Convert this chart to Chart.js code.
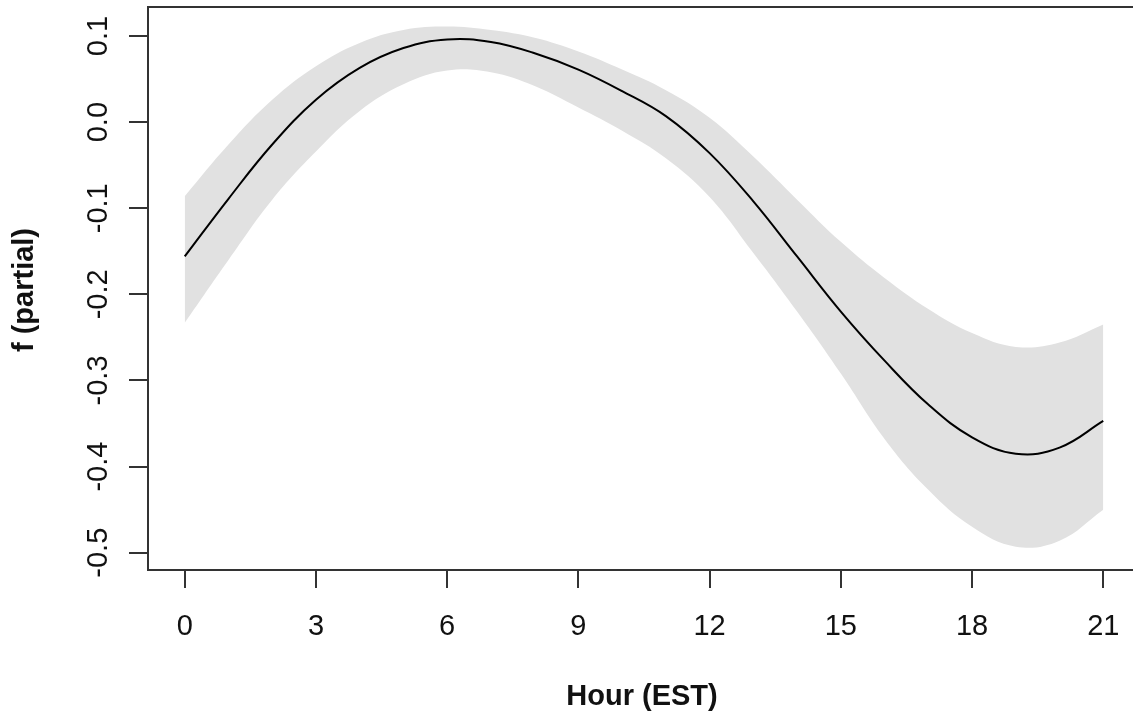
<!DOCTYPE html>
<html lang="en">
<head>
    <meta charset="UTF-8">
    <title>f (partial) by Hour</title>
    <script src="https://cdn.jsdelivr.net/npm/chart.js"></script>
    <style>
        html, body { margin: 0; padding: 0; background: #fff; overflow: hidden; }
        .chart-box { position: relative; width: 1133px; height: 717px; }
    </style>
</head>
<body>
    <div class="chart-box">
        <canvas id="smoothChart"></canvas>
    </div>

    <script>
// values
const hours = [0, 1, 2, 3, 4, 5, 6, 7, 8, 9, 10, 11, 12, 13, 14, 15, 16, 17, 18, 19, 20, 21];
const fitValues = [-0.156, -0.089, -0.026, 0.026, 0.063, 0.086, 0.096, 0.093, 0.080, 0.061, 0.036, 0.007,
    -0.036, -0.092, -0.156, -0.220, -0.277, -0.328, -0.366, -0.385, -0.378, -0.347];
const upperValues = [-0.086, -0.026, 0.026, 0.065, 0.092, 0.107, 0.111, 0.107, 0.098, 0.082, 0.061, 0.037,
    0.005, -0.040, -0.090, -0.139, -0.181, -0.217, -0.245, -0.261, -0.256, -0.235];
const lowerValues = [-0.233, -0.160, -0.090, -0.034, 0.013, 0.044, 0.060, 0.058, 0.042, 0.017, -0.010, -0.042,
    -0.087, -0.152, -0.220, -0.292, -0.368, -0.427, -0.470, -0.493, -0.486, -0.450];

const xTicks = [0, 3, 6, 9, 12, 15, 18, 21];
const yTicks = [-0.5, -0.4, -0.3, -0.2, -0.1, 0.0, 0.1];
const yTickLabels = ['-0.5', '-0.4', '-0.3', '-0.2', '-0.1', '0.0', '0.1'];
const xTitle = 'Hour (EST)';
const yTitle = 'f (partial)';

const toPoints = vals => hours.map((h, i) => ({ x: h, y: vals[i] }));

const axisColor = '#333';
const textColor = '#111';
const fontFamily = '"Liberation Sans", Arial, sans-serif';

// R style box, tick labels and axis titles
const rAxes = {
    id: 'rAxes',
    afterDraw(chart) {
        const { ctx, chartArea: a, scales: { x, y } } = chart;
        ctx.save();
        ctx.strokeStyle = axisColor;
        ctx.lineWidth = 2;
        ctx.strokeRect(a.left, a.top, 1140 - a.left, a.bottom - a.top);

        ctx.fillStyle = textColor;
        ctx.font = '29px ' + fontFamily;
        ctx.textAlign = 'center';
        ctx.textBaseline = 'alphabetic';
        xTicks.forEach(v => ctx.fillText(String(v), x.getPixelForValue(v), 635));

        yTicks.forEach((v, i) => {
            ctx.save();
            ctx.translate(107, y.getPixelForValue(v));
            ctx.rotate(-Math.PI / 2);
            ctx.fillText(yTickLabels[i], 0, 0);
            ctx.restore();
        });

        ctx.font = 'bold 29px ' + fontFamily;
        ctx.fillText(xTitle, 642, 705);
        ctx.save();
        ctx.translate(33, 290);
        ctx.rotate(-Math.PI / 2);
        ctx.fillText(yTitle, 0, 0);
        ctx.restore();
        ctx.restore();
    }
};

const tickGrid = {
    drawOnChartArea: false,
    drawTicks: true,
    color: axisColor,
    lineWidth: 2
};

new Chart(document.getElementById('smoothChart'), {
    type: 'line',
    data: {
        datasets: [
            {
                label: 'fit',
                data: toPoints(fitValues),
                borderColor: '#000',
                borderWidth: 2,
                pointRadius: 0,
                fill: false,
                order: 0
            },
            {
                label: 'upper',
                data: toPoints(upperValues),
                borderWidth: 0,
                borderColor: 'rgba(0,0,0,0)',
                backgroundColor: '#e1e1e1',
                pointRadius: 0,
                fill: '+1',
                order: 1
            },
            {
                label: 'lower',
                data: toPoints(lowerValues),
                borderWidth: 0,
                borderColor: 'rgba(0,0,0,0)',
                pointRadius: 0,
                fill: false,
                order: 2
            }
        ]
    },
    options: {
        responsive: true,
        maintainAspectRatio: false,
        animation: false,
        events: [],
        layout: { padding: { top: 7, left: 0, right: 0, bottom: 0 } },
        elements: { line: { tension: 0.4 } },
        plugins: { legend: { display: false }, tooltip: { enabled: false } },
        scales: {
            x: {
                type: 'linear',
                min: -0.84,
                max: 21.68,
                afterFit: s => { s.height = 147; },
                afterBuildTicks: s => { s.ticks = xTicks.map(v => ({ value: v })); },
                ticks: { display: false },
                grid: { ...tickGrid, tickLength: 18 },
                border: { display: false }
            },
            y: {
                type: 'linear',
                min: -0.5201,
                max: 0.1337,
                afterFit: s => { s.width = 148; },
                afterBuildTicks: s => { s.ticks = yTicks.map(v => ({ value: v })); },
                ticks: { display: false },
                grid: { ...tickGrid, tickLength: 19 },
                border: { display: false }
            }
        }
    },
    plugins: [rAxes]
});
    </script>
</body>
</html>
